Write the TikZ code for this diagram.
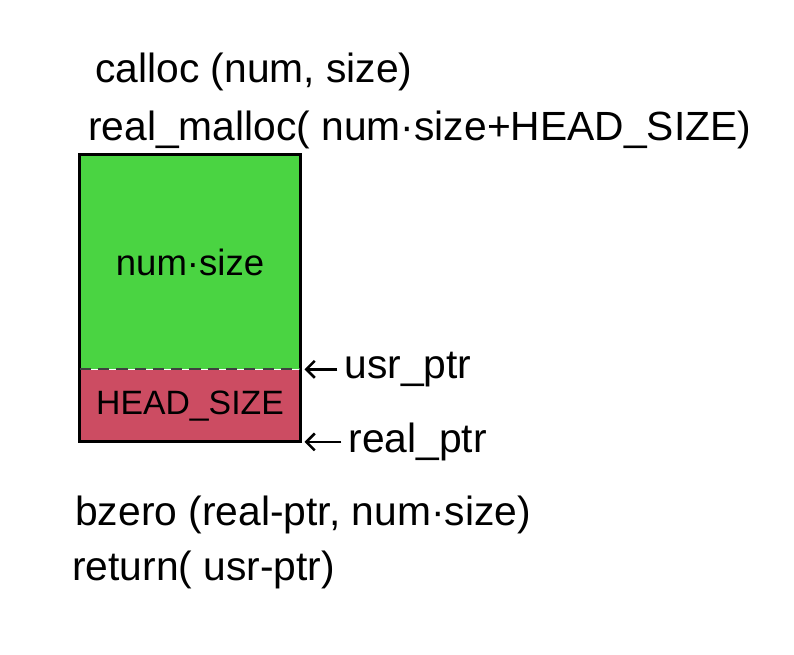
\documentclass[tikz,border=0pt]{standalone}
\usepackage{fontspec}
\setmainfont{Liberation Sans}
\usepackage{tikz}
\usetikzlibrary{positioning,calc,arrows.meta}
\definecolor{memgreen}{RGB}{74,212,66}
\definecolor{memred}{RGB}{204,76,98}
\tikzset{
  code/.style={right,inner sep=0pt,font=\fontsize{29}{34}\selectfont},
  block/.style={minimum width=5.5cm,inner sep=0pt,font=\fontsize{26}{30}\selectfont},
  ptr/.style={-{Straight Barb[length=6pt,width=12pt]},line width=1.8pt,shorten >=3pt,shorten <=5pt}
}

\begin{document}
\begin{tikzpicture}[x=0.025cm,y=-0.025cm]
\useasboundingbox (0,0) rectangle (794,654);
\node[code] (call) at (95,72) {calloc (num, size)};
\node[code] (rmal) at (88,130) {real\_malloc( num·size+HEAD\_SIZE)};
\node[block,fill=memgreen,minimum height=5.35cm] (data) at (190,262) {num·size};
\node[block,fill=memred,minimum height=1.8cm,below=0pt of data,font=\fontsize{24}{28}\selectfont] (head) {HEAD\_SIZE};
\draw[line width=2pt] (data.north west) rectangle (head.south east);
\draw[line width=1.6pt,black!75,dash pattern=on 8pt off 5pt] (data.south west) -- (data.south east);
\node[code,right=1.1cm of data.south east] (usr) {usr\_ptr};
\node[code,right=1.2cm of head.south east] (real) {real\_ptr};
\draw[ptr] (usr.west) -- (data.south east);
\draw[ptr] (real.west) -- (head.south east);
\node[code] (bz) at (75,515) {bzero (real-ptr, num·size)};
\node[code] (ret) at (72,570) {return( usr-ptr)};
\end{tikzpicture}
\end{document}
